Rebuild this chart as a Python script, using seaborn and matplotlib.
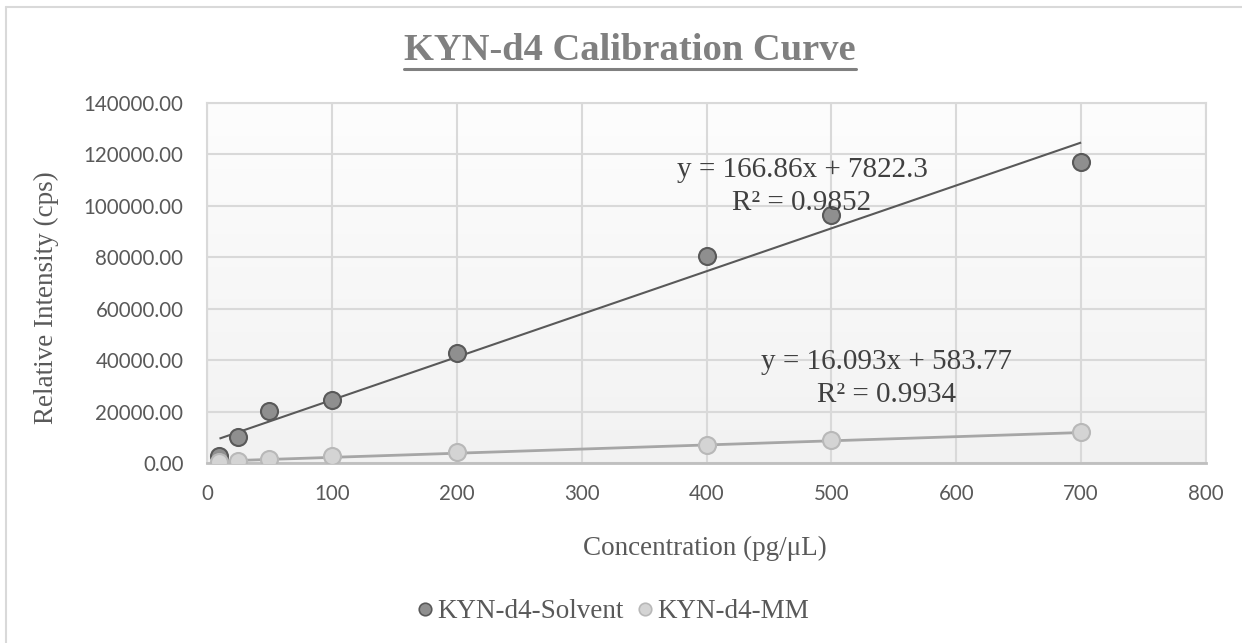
import numpy as np
import matplotlib
matplotlib.use("Agg")
import matplotlib.pyplot as plt
from matplotlib.colors import LinearSegmentedColormap
from matplotlib.lines import Line2D
import seaborn as sns
import pandas as pd

# Calibration standards (pg/uL) and measured intensities (cps)
conc = [10, 25, 50, 100, 200, 400, 500, 700]
solvent_cps = [2900, 10100, 20200, 24500, 42800, 80500, 96500, 117100]
mm_cps = [400, 700, 1500, 2700, 4300, 7000, 8900, 12000]

series_names = ["KYN-d4-Solvent", "KYN-d4-MM"]
# Linear trendline coefficients (slope, intercept) and R^2
slopes = [166.86, 16.093]
intercepts = [7822.3, 583.77]
r_squared = [0.9852, 0.9934]

x_ticks = [0, 100, 200, 300, 400, 500, 600, 700, 800]
y_ticks = [0, 20000, 40000, 60000, 80000, 100000, 120000, 140000]

df = pd.DataFrame({
    "conc": conc * 2,
    "cps": solvent_cps + mm_cps,
    "series": [series_names[0]] * len(conc) + [series_names[1]] * len(conc),
})

sns.set_theme(style="whitegrid")
plt.rcParams["font.family"] = ["Liberation Serif", "DejaVu Serif"]

W, H = 1242, 643
fig = plt.figure(figsize=(W / 100, H / 100), dpi=100)
fig.patch.set_facecolor("white")
ax = fig.add_axes([207 / W, 1 - 463 / H, (1206 - 207) / W, (463 - 103) / H])

# plot-area gradient (near white at top, light gray at bottom)
cmap = LinearSegmentedColormap.from_list("bg", ["#f2f2f2", "#fdfdfd"])
grad = np.linspace(0, 1, 256).reshape(-1, 1)
ax.imshow(grad, extent=[0, 800, 0, 140000], origin="lower", aspect="auto",
          cmap=cmap, zorder=0, interpolation="bilinear")

ax.set_facecolor("none")
ax.grid(True, color="#d9d9d9", linewidth=1.5, zorder=0.5)
ax.set_axisbelow(True)

fill_cols = ["#8f8f8f", "#d4d4d4"]
edge_cols = ["#595959", "#b8b8b8"]
line_cols = ["#595959", "#a6a6a6"]
line_w = [1.5, 2.0]

# trendlines from the fitted coefficients
x_fit = np.array([min(conc), max(conc)], dtype=float)
for i in range(2):
    ax.plot(x_fit, slopes[i] * x_fit + intercepts[i], color=line_cols[i],
            linewidth=line_w[i], zorder=2, solid_capstyle="butt")

for i, name in enumerate(series_names):
    sub = df[df["series"] == name]
    sns.scatterplot(data=sub, x="conc", y="cps", ax=ax, s=150,
                    color=fill_cols[i], edgecolor=edge_cols[i], linewidth=1.5,
                    zorder=3, legend=False)

ax.set_xlim(0, 800)
ax.set_ylim(0, 140000)
ax.set_xticks(x_ticks)
ax.set_yticks(y_ticks)
ax.set_xticklabels([str(v) for v in x_ticks])
ax.set_yticklabels([f"{v:.2f}" for v in y_ticks])
ax.tick_params(axis="both", length=0, labelsize=14.8, labelcolor="#595959")
ax.tick_params(axis="x", pad=15)
ax.tick_params(axis="y", pad=17)
for lab in ax.get_xticklabels() + ax.get_yticklabels():
    lab.set_fontfamily(["Lato", "DejaVu Sans"])

for side in ["top", "right", "left"]:
    ax.spines[side].set_color("#d9d9d9")
    ax.spines[side].set_linewidth(1.5)
ax.spines["bottom"].set_color("#bfbfbf")
ax.spines["bottom"].set_linewidth(2)

ax.set_xlabel("Concentration (pg/\u03bcL)", fontsize=19.5, color="#595959")
ax.set_ylabel("Relative Intensity (cps)", fontsize=19.5, color="#595959")
ax.xaxis.set_label_coords((705 - 207) / (1206 - 207), -(536 - 463) / 360)
ax.yaxis.set_label_coords(-(207 - 59) / (1206 - 207), (463 - 298) / 360)

# trendline equations
eq_pos = [(802, 170, 203), (887, 362, 395)]
for i in range(2):
    xc, y1, y2 = eq_pos[i]
    fig.text(xc / W, 1 - y1 / H, f"y = {slopes[i]}x + {intercepts[i]}",
             ha="center", va="center", fontsize=21, color="#404040")
    fig.text(xc / W, 1 - y2 / H, f"R\u00b2 = {r_squared[i]}",
             ha="center", va="center", fontsize=21, color="#404040")

# title with underline
title = fig.text(630 / W, 1 - 50 / H, "KYN-d4 Calibration Curve", ha="center",
                 va="center", fontsize=27.7, fontweight="bold", color="#808080")
fig.canvas.draw()
bb = title.get_window_extent(renderer=fig.canvas.get_renderer())
uy = 1 - 69 / H
fig.add_artist(Line2D([bb.x0 / W, bb.x1 / W], [uy, uy], color="#808080",
                      linewidth=2.2, transform=fig.transFigure))

# legend
handles = [Line2D([], [], linestyle="none", marker="o", markersize=9,
                  markerfacecolor=fill_cols[i], markeredgecolor=edge_cols[i],
                  markeredgewidth=1.2) for i in range(2)]
leg = fig.legend(handles, series_names, loc="center", bbox_to_anchor=(611 / W, 1 - 612 / H),
                 ncol=2, frameon=False, fontsize=19.5, handletextpad=0.0,
                 columnspacing=0.35, handlelength=0.9)
for t in leg.get_texts():
    t.set_color("#595959")

# chart border
border_col = "#d9d9d9"
fig.add_artist(Line2D([5.5 / W, 1], [1 - 7 / H, 1 - 7 / H], color=border_col,
                      linewidth=1.5, transform=fig.transFigure))
fig.add_artist(Line2D([5.5 / W, 5.5 / W], [0, 1 - 7 / H], color=border_col,
                      linewidth=1.5, transform=fig.transFigure))

fig.savefig("out.png", dpi=100, facecolor="white")
